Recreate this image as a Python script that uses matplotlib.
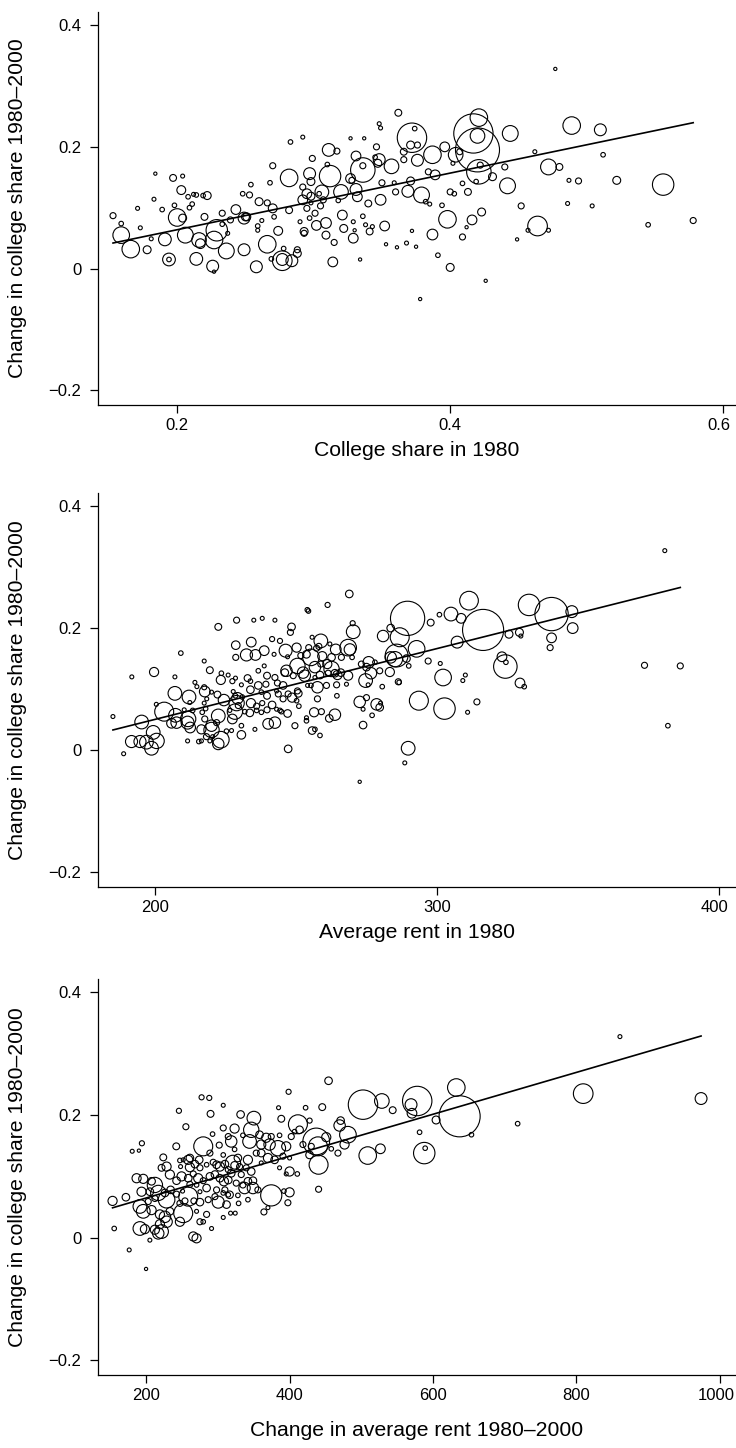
import matplotlib
matplotlib.use("Agg")
import matplotlib.pyplot as plt
import matplotlib.transforms as mtransforms
import numpy as np

plt.rcParams['font.family'] = ['Liberation Sans', 'DejaVu Sans']

# ---------------- Panel 1: college share in 1980 ----------------
share80 = [
    0.153, 0.159, 0.159, 0.166, 0.171, 0.173, 0.178, 0.181, 0.184, 0.183,
    0.189, 0.191, 0.194, 0.194, 0.197, 0.198, 0.200, 0.203, 0.204, 0.204,
    0.206, 0.208, 0.209, 0.211, 0.212, 0.214, 0.214, 0.216, 0.217, 0.219,
    0.222, 0.220, 0.226, 0.227, 0.227, 0.229, 0.233, 0.233, 0.236, 0.237,
    0.239, 0.243, 0.248, 0.249, 0.249, 0.250, 0.251, 0.253, 0.254, 0.259,
    0.259, 0.260, 0.258, 0.262, 0.266, 0.266, 0.268, 0.270, 0.270, 0.271,
    0.269, 0.274, 0.277, 0.278, 0.277, 0.282, 0.283, 0.282, 0.284, 0.288,
    0.288, 0.290, 0.292, 0.292, 0.292, 0.293, 0.293, 0.295, 0.295, 0.297,
    0.297, 0.298, 0.298, 0.298, 0.299, 0.301, 0.302, 0.304, 0.305, 0.306,
    0.307, 0.309, 0.309, 0.310, 0.311, 0.312, 0.315, 0.314, 0.317, 0.318,
    0.320, 0.321, 0.322, 0.327, 0.327, 0.328, 0.329, 0.329, 0.330, 0.331,
    0.331, 0.332, 0.334, 0.336, 0.336, 0.336, 0.337, 0.338, 0.340, 0.341,
    0.343, 0.345, 0.346, 0.347, 0.348, 0.348, 0.349, 0.349, 0.350, 0.352,
    0.353, 0.357, 0.359, 0.360, 0.362, 0.361, 0.366, 0.366, 0.368, 0.369,
    0.371, 0.372, 0.371, 0.374, 0.372, 0.375, 0.376, 0.376, 0.378, 0.379,
    0.382, 0.384, 0.385, 0.387, 0.389, 0.387, 0.391, 0.394, 0.396, 0.398,
    0.400, 0.400, 0.402, 0.403, 0.404, 0.407, 0.409, 0.409, 0.412, 0.413,
    0.416, 0.417, 0.420, 0.421, 0.421, 0.419, 0.420, 0.422, 0.423, 0.426,
    0.431, 0.440, 0.442, 0.444, 0.449, 0.452, 0.457, 0.462, 0.464, 0.472,
    0.477, 0.480, 0.472, 0.486, 0.487, 0.489, 0.494, 0.504, 0.510, 0.512,
    0.522, 0.545, 0.556, 0.578,
]
dshare_p1 = [
    0.087, 0.055, 0.074, 0.032, 0.099, 0.067, 0.031, 0.049, 0.156, 0.114,
    0.097, 0.048, 0.015, 0.015, 0.149, 0.104, 0.084, 0.129, 0.152, 0.083,
    0.055, 0.118, 0.100, 0.106, 0.122, 0.121, 0.016, 0.047, 0.041, 0.120,
    0.120, 0.085, 0.004, -0.005, 0.047, 0.063, 0.091, 0.073, 0.029, 0.058,
    0.080, 0.097, 0.123, 0.031, 0.083, 0.085, 0.085, 0.121, 0.138, 0.070,
    0.063, 0.110, 0.003, 0.079, 0.040, 0.108, 0.141, 0.169, 0.099, 0.085,
    0.016, 0.062, 0.013, 0.033, 0.015, 0.149, 0.208, 0.096, 0.013, 0.031,
    0.025, 0.077, 0.134, 0.113, 0.216, 0.061, 0.058, 0.123, 0.099, 0.083,
    0.156, 0.143, 0.119, 0.108, 0.181, 0.091, 0.071, 0.123, 0.103, 0.126,
    0.113, 0.075, 0.055, 0.171, 0.195, 0.152, 0.043, 0.011, 0.193, 0.112,
    0.126, 0.088, 0.066, 0.214, 0.148, 0.145, 0.050, 0.077, 0.063, 0.185,
    0.130, 0.118, 0.015, 0.086, 0.162, 0.169, 0.214, 0.072, 0.107, 0.061,
    0.069, 0.183, 0.200, 0.173, 0.179, 0.238, 0.231, 0.113, 0.141, 0.070,
    0.040, 0.168, 0.141, 0.126, 0.256, 0.035, 0.192, 0.179, 0.042, 0.127,
    0.144, 0.215, 0.203, 0.230, 0.062, 0.036, 0.178, 0.203, -0.050, 0.121,
    0.110, 0.159, 0.106, 0.187, 0.154, 0.056, 0.022, 0.104, 0.200, 0.081,
    0.002, 0.126, 0.173, 0.123, 0.187, 0.192, 0.052, 0.140, 0.068, 0.126,
    0.080, 0.222, 0.195, 0.248, 0.159, 0.143, 0.218, 0.170, 0.093, -0.020,
    0.151, 0.167, 0.136, 0.222, 0.048, 0.103, 0.063, 0.192, 0.070, 0.167,
    0.328, 0.167, 0.063, 0.107, 0.145, 0.235, 0.144, 0.103, 0.228, 0.187,
    0.145, 0.072, 0.138, 0.079,
]
pop_p1 = [
    7, 53, 4, 59, 3, 3, 12, 3, 2, 3,
    4, 31, 31, 4, 9, 4, 59, 15, 3, 12,
    48, 4, 4, 4, 3, 4, 31, 41, 18, 4,
    12, 9, 27, 2, 59, 88, 7, 4, 48, 3,
    7, 18, 4, 27, 27, 12, 12, 7, 4, 4,
    3, 12, 27, 3, 59, 7, 4, 7, 15, 4,
    4, 15, 74, 4, 27, 59, 4, 9, 27, 7,
    12, 3, 7, 18, 3, 12, 7, 18, 7, 4,
    27, 12, 12, 3, 7, 7, 18, 4, 7, 36,
    7, 22, 12, 4, 31, 88, 7, 18, 7, 4,
    41, 18, 12, 2, 18, 7, 18, 3, 2, 18,
    27, 18, 2, 4, 115, 7, 2, 3, 9, 9,
    3, 4, 7, 12, 27, 3, 3, 22, 7, 18,
    2, 41, 3, 7, 9, 2, 9, 7, 3, 27,
    12, 166, 12, 4, 2, 2, 27, 7, 2, 48,
    4, 7, 3, 59, 18, 22, 4, 4, 18, 59,
    12, 7, 3, 4, 41, 7, 7, 4, 2, 9,
    18, 296, 372, 59, 115, 4, 41, 7, 12, 2,
    12, 7, 48, 48, 2, 7, 3, 3, 74, 48,
    2, 9, 3, 3, 3, 59, 7, 3, 27, 4,
    12, 4, 88, 7,
]

# ---------------- Panel 2: average rent in 1980 ----------------
rent80 = [
    228.8, 234.9, 237.9, 222.3, 209.0, 228.5, 234.0, 228.5, 232.3, 235.5,
    238.6, 217.3, 199.5, 191.6, 206.9, 219.3, 223.4, 223.2, 225.8, 227.3,
    228.4, 230.5, 232.7, 233.7, 236.5, 238.6, 239.6, 214.0, 214.7, 217.3,
    217.5, 219.9, 222.0, 218.2, 206.9, 211.9, 200.3, 212.2, 213.2, 217.3,
    224.3, 227.6, 228.4, 229.1, 228.8, 230.8, 233.7, 236.5, 237.6, 239.2,
    237.9, 233.9, 235.9, 239.6, 203.1, 207.1, 210.2, 211.6, 216.6, 217.8,
    222.3, 226.4, 228.2, 229.4, 231.7, 233.5, 235.9, 237.6, 239.6, 184.9,
    195.1, 205.7, 207.5, 211.4, 212.3, 216.3, 217.5, 219.9, 219.9, 221.7,
    227.3, 225.2, 227.0, 230.5, 230.5, 235.3, 240.0, 199.2, 200.4, 191.5,
    194.5, 196.8, 198.6, 211.4, 215.4, 216.3, 218.1, 219.3, 220.3, 222.3,
    223.2, 188.7,
    268.8, 253.9, 254.3, 261.1, 242.4, 270.0, 248.3, 247.9, 270.2, 283.5,
    289.5, 297.7, 280.8, 286.7, 292.7, 241.4, 244.2, 255.6, 258.7, 246.2,
    250.1, 254.4, 257.2, 258.0, 261.9, 264.0, 268.4, 269.0, 251.6, 253.6,
    255.2, 259.2, 262.5, 266.0, 269.8, 242.1, 246.9, 285.6, 283.5, 285.0,
    289.1, 275.7, 273.1, 277.9, 246.5, 245.9, 250.4, 252.4, 256.6, 258.7,
    261.0, 262.5, 263.7, 265.8, 268.4, 274.9, 276.5, 279.6, 283.2, 289.9,
    296.8, 242.4, 248.9, 253.0, 256.6, 258.4, 261.3, 264.6, 274.6, 286.2,
    286.5, 243.3, 245.3, 243.0, 250.4, 254.0, 255.2, 257.5, 260.7, 264.3,
    267.8, 275.5, 280.5, 243.6, 247.1, 248.5, 250.7, 245.3, 250.1, 257.5,
    264.4, 272.5, 274.9, 278.5, 279.9, 279.6, 293.5, 241.4, 243.0, 244.2,
    244.7, 246.9, 250.9, 256.3, 258.9, 263.7, 261.7, 273.7, 276.9, 242.4,
    253.6, 253.6, 249.5, 255.6, 256.6, 258.4, 273.7, 247.1, 289.7, 288.5,
    300.8, 302.1, 302.6, 301.1, 304.9, 307.1, 308.5, 309.1, 310.0, 310.8,
    311.3, 314.1, 316.3, 323.0, 324.4, 324.2, 325.5, 329.2, 329.7, 329.4,
    330.9, 332.6, 340.6, 340.6, 340.1, 347.8, 348.1, 373.6, 380.8, 381.9,
    386.3, 272.5,
]
dshare_p2 = [
    0.213, 0.213, 0.216, 0.202, 0.159, 0.172, 0.177, 0.152, 0.156, 0.156,
    0.163, 0.146, 0.128, 0.120, 0.120, 0.131, 0.126, 0.115, 0.123, 0.113,
    0.118, 0.107, 0.118, 0.113, 0.130, 0.138, 0.122, 0.111, 0.104, 0.103,
    0.096, 0.095, 0.091, 0.084, 0.093, 0.087, 0.075, 0.078, 0.065, 0.077,
    0.082, 0.096, 0.089, 0.085, 0.077, 0.087, 0.099, 0.106, 0.095, 0.108,
    0.077, 0.077, 0.072, 0.089, 0.063, 0.057, 0.066, 0.051, 0.062, 0.068,
    0.056, 0.065, 0.063, 0.073, 0.063, 0.061, 0.065, 0.062, 0.066, 0.055,
    0.046, 0.044, 0.045, 0.045, 0.037, 0.034, 0.051, 0.033, 0.040, 0.045,
    0.051, 0.031, 0.032, 0.025, 0.040, 0.034, 0.043, 0.029, 0.015, 0.014,
    0.014, 0.013, 0.003, 0.015, 0.014, 0.015, 0.022, 0.015, 0.022, 0.010,
    0.017, -0.006,
    0.256, 0.230, 0.228, 0.238, 0.213, 0.208, 0.202, 0.193, 0.194, 0.200,
    0.216, 0.209, 0.187, 0.185, 0.166, 0.182, 0.179, 0.185, 0.179, 0.163,
    0.168, 0.168, 0.167, 0.170, 0.174, 0.165, 0.168, 0.165, 0.155, 0.157,
    0.152, 0.154, 0.152, 0.152, 0.152, 0.157, 0.153, 0.155, 0.152, 0.149,
    0.150, 0.144, 0.141, 0.144, 0.130, 0.127, 0.138, 0.127, 0.136, 0.141,
    0.141, 0.133, 0.126, 0.127, 0.122, 0.136, 0.126, 0.130, 0.128, 0.138,
    0.146, 0.119, 0.122, 0.122, 0.119, 0.123, 0.126, 0.123, 0.114, 0.112,
    0.111, 0.110, 0.106, 0.097, 0.097, 0.106, 0.106, 0.103, 0.106, 0.107,
    0.108, 0.107, 0.104, 0.092, 0.092, 0.086, 0.093, 0.084, 0.081, 0.084,
    0.089, 0.079, 0.086, 0.075, 0.077, 0.070, 0.081, 0.074, 0.067, 0.065,
    0.063, 0.060, 0.072, 0.062, 0.063, 0.058, 0.052, 0.067, 0.057, 0.045,
    0.053, 0.048, 0.040, 0.032, 0.034, 0.024, 0.041, 0.002, 0.003, -0.021,
    0.222, 0.119, 0.068, 0.142, 0.223, 0.177, 0.216, 0.114, 0.123, 0.062,
    0.245, 0.079, 0.197, 0.153, 0.144, 0.137, 0.190, 0.193, 0.187, 0.110,
    0.104, 0.238, 0.223, 0.184, 0.168, 0.227, 0.200, 0.139, 0.327, 0.040,
    0.138, -0.052,
]
pop_p2 = [
    7, 3, 3, 9, 4, 14, 18, 7, 28, 22,
    18, 3, 16, 3, 3, 9, 4, 16, 3, 5,
    3, 3, 9, 4, 4, 3, 9, 3, 3, 5,
    22, 3, 9, 3, 36, 36, 3, 3, 4, 3,
    25, 3, 4, 25, 45, 4, 11, 11, 4, 7,
    5, 16, 7, 9, 69, 36, 3, 45, 4, 4,
    36, 3, 45, 7, 4, 11, 4, 4, 7, 3,
    36, 18, 25, 32, 22, 16, 7, 45, 25, 7,
    18, 4, 3, 14, 4, 3, 22, 36, 45, 28,
    28, 36, 36, 3, 4, 3, 7, 3, 3, 25,
    53, 3,
    11, 4, 4, 5, 3, 5, 11, 7, 36, 11,
    225, 9, 25, 69, 53, 5, 5, 3, 36, 32,
    16, 7, 7, 7, 3, 22, 53, 25, 7, 11,
    53, 16, 11, 7, 4, 3, 3, 100, 25, 45,
    11, 25, 7, 4, 25, 11, 45, 25, 25, 7,
    16, 45, 11, 11, 16, 11, 25, 7, 16, 4,
    7, 7, 7, 25, 3, 11, 7, 16, 36, 7,
    4, 7, 11, 3, 7, 3, 4, 25, 7, 7,
    3, 3, 4, 7, 7, 16, 11, 7, 4, 7,
    4, 25, 7, 25, 3, 11, 69, 11, 3, 4,
    4, 11, 4, 16, 7, 25, 11, 3, 4, 25,
    3, 4, 7, 11, 4, 4, 11, 11, 36, 3,
    4, 53, 88, 3, 36, 27, 18, 3, 3, 3,
    67, 7, 324, 18, 4, 106, 12, 12, 3, 18,
    4, 88, 213, 18, 7, 27, 22, 7, 3, 4,
    7, 2,
]

# ---------------- Panel 3: change in average rent 1980-2000 ----------------
drent = [
    277.4, 288.1, 245.8, 289.9, 307.6, 255.5, 307.6, 279.7, 194.2, 180.7,
    190.0, 242.1, 292.7, 314.6, 302.0, 224.0, 247.2, 251.8, 258.8, 261.1,
    274.1, 289.0, 307.6, 221.6, 228.6, 248.1, 261.1, 268.1, 275.1, 284.4,
    293.6, 298.3, 302.9, 309.9, 314.6, 186.8, 196.1, 207.7, 212.3, 233.2,
    242.5, 249.5, 258.8, 265.8, 272.7, 279.7, 289.0, 296.0, 302.9, 308.5,
    314.6, 261.1, 270.4, 284.4, 298.3, 309.9, 193.7, 205.3, 217.0, 226.3,
    234.2, 242.5, 250.9, 258.8, 275.1, 296.0, 307.6, 314.6, 153.3, 171.9,
    191.4, 203.0, 212.3, 228.6, 247.2, 254.2, 266.7, 275.1, 286.7, 300.6,
    312.2, 196.1, 207.7, 219.3, 226.3, 233.2, 251.8, 270.4, 284.4, 307.6,
    275.1, 279.7, 228.6, 191.4, 198.4, 212.3, 219.3, 221.6, 217.0, 247.2,
    291.3, 265.8, 270.4, 155.6, 205.3, 176.5,
    454.4, 398.7, 384.7, 422.4, 445.6, 331.8, 350.3, 388.5, 411.7, 428.0,
    471.2, 469.8, 481.4, 476.7, 323.4, 346.6, 335.0, 358.2, 367.5, 374.5,
    386.1, 402.4, 407.0, 414.0, 437.2, 439.6, 451.2, 318.7, 344.3, 360.6,
    372.2, 383.8, 395.4, 418.7, 430.3, 458.2, 467.5, 323.4, 328.0, 321.1,
    342.0, 353.6, 360.6, 369.9, 379.2, 390.8, 400.1, 427.9, 323.4, 330.4,
    339.7, 318.7, 332.7, 346.6, 360.6, 386.1, 400.1, 395.4, 410.8, 440.5,
    325.7, 335.0, 342.0, 349.0, 337.3, 349.0, 355.9, 316.4, 328.0, 342.0,
    374.5, 392.2, 400.1, 440.5, 397.7, 369.9, 329.0, 364.3, 317.8, 324.3,
    502.4, 528.7, 543.8, 509.0, 526.7, 578.0, 569.4, 570.7, 581.3, 587.8,
    589.1, 604.3, 632.5, 637.1, 653.6, 718.0, 809.4, 860.6, 973.7, 200.0,
]
dshare_p3 = [
    0.229, 0.228, 0.207, 0.202, 0.216, 0.181, 0.179, 0.149, 0.154, 0.141,
    0.142, 0.149, 0.169, 0.165, 0.151, 0.131, 0.126, 0.127, 0.127, 0.130,
    0.127, 0.138, 0.135, 0.114, 0.116, 0.116, 0.115, 0.120, 0.114, 0.119,
    0.123, 0.119, 0.116, 0.120, 0.111, 0.097, 0.096, 0.092, 0.086, 0.103,
    0.093, 0.100, 0.097, 0.104, 0.097, 0.093, 0.100, 0.103, 0.097, 0.092,
    0.094, 0.087, 0.086, 0.081, 0.078, 0.078, 0.075, 0.075, 0.073, 0.073,
    0.078, 0.071, 0.076, 0.067, 0.075, 0.067, 0.073, 0.070, 0.060, 0.066,
    0.051, 0.059, 0.064, 0.062, 0.056, 0.060, 0.060, 0.058, 0.062, 0.058,
    0.054, 0.043, 0.045, 0.038, 0.034, 0.043, 0.040, 0.043, 0.038, 0.033,
    0.026, 0.026, 0.026, 0.015, 0.014, 0.013, 0.022, 0.010, 0.007, 0.026,
    0.015, 0.002, -0.001, 0.015, -0.004, -0.020,
    0.256, 0.238, 0.212, 0.212, 0.213, 0.201, 0.195, 0.194, 0.185, 0.191,
    0.191, 0.183, 0.168, 0.152, 0.178, 0.176, 0.167, 0.168, 0.163, 0.165,
    0.167, 0.165, 0.173, 0.176, 0.157, 0.149, 0.164, 0.157, 0.157, 0.152,
    0.152, 0.146, 0.149, 0.152, 0.149, 0.145, 0.138, 0.144, 0.130, 0.122,
    0.127, 0.138, 0.138, 0.130, 0.127, 0.133, 0.130, 0.135, 0.118, 0.116,
    0.114, 0.105, 0.103, 0.108, 0.122, 0.114, 0.108, 0.104, 0.104, 0.119,
    0.089, 0.086, 0.092, 0.093, 0.081, 0.081, 0.078, 0.070, 0.069, 0.062,
    0.069, 0.076, 0.074, 0.079, 0.057, 0.049, 0.056, 0.042, 0.040, 0.040,
    0.217, 0.223, 0.208, 0.134, 0.145, 0.223, 0.217, 0.203, 0.172, 0.138,
    0.146, 0.192, 0.245, 0.198, 0.168, 0.186, 0.235, 0.328, 0.227, -0.051,
]
pop_p3 = [
    5, 5, 5, 9, 3, 7, 7, 69, 5, 3,
    2, 9, 4, 7, 7, 9, 4, 3, 16, 11,
    11, 7, 4, 9, 16, 3, 16, 11, 7, 4,
    7, 11, 16, 11, 7, 16, 16, 11, 45, 16,
    11, 16, 11, 7, 16, 7, 11, 11, 11, 16,
    11, 7, 4, 11, 7, 7, 16, 11, 45, 11,
    11, 7, 3, 69, 3, 7, 4, 4, 16, 11,
    36, 7, 7, 53, 7, 7, 7, 11, 7, 28,
    11, 36, 16, 16, 25, 11, 69, 3, 7, 3,
    7, 4, 25, 36, 16, 16, 16, 36, 25, 16,
    3, 16, 16, 4, 3, 3,
    11, 5, 3, 4, 9, 11, 36, 9, 69, 5,
    11, 25, 53, 16, 16, 45, 4, 11, 16, 7,
    4, 7, 4, 11, 137, 69, 16, 25, 36, 16,
    25, 45, 16, 7, 7, 4, 7, 4, 11, 45,
    16, 7, 11, 16, 11, 7, 3, 11, 11, 7,
    7, 11, 7, 11, 3, 3, 16, 3, 4, 69,
    7, 7, 11, 11, 25, 25, 7, 11, 4, 4,
    86, 4, 16, 7, 7, 3, 4, 7, 3, 3,
    166, 41, 9, 59, 18, 166, 27, 18, 4, 88,
    4, 12, 59, 324, 4, 4, 74, 3, 27, 2,
]

# weighted regression fits (slope, intercept)
fit_p1 = (0.465, -0.0291)
fit_p2 = (0.00116, -0.1815)
fit_p3 = (0.0003416, -0.00361)

ylabel_text = "Change in college share 1980\u20132000"
xlabels = ["College share in 1980", "Average rent in 1980",
           "Change in average rent 1980\u20132000"]
xticks_p1 = [0.2, 0.4, 0.6]
xticks_p2 = [200, 300, 400]
xticks_p3 = [200, 400, 600, 800, 1000]
yticks = [-0.2, 0, 0.2, 0.4]

# ---------------- figure ----------------
W, H = 736, 1448
fig = plt.figure(figsize=(W / 100, H / 100), dpi=100)

panels = [
    dict(top=11.7, bottom=405.0, x=share80, y=dshare_p1, w=pop_p1, fit=fit_p1,
         xlim=(0.142, 0.609), xticks=xticks_p1, xtl=["0.2", "0.4", "0.6"],
         xlabel=xlabels[0], xlab_off=46),
    dict(top=492.7, bottom=886.7, x=rent80, y=dshare_p2, w=pop_p2, fit=fit_p2,
         xlim=(179.6, 405.9), xticks=xticks_p2, xtl=["200", "300", "400"],
         xlabel=xlabels[1], xlab_off=46),
    dict(top=979.0, bottom=1375.0, x=drent, y=dshare_p3, w=pop_p3, fit=fit_p3,
         xlim=(133.0, 1021.7), xticks=xticks_p3,
         xtl=["200", "400", "600", "800", "1000"],
         xlabel=xlabels[2], xlab_off=56),
]

left_px, right_px = 98.0, 735.5
for p in panels:
    rect = [left_px / W, 1 - p["bottom"] / H, (right_px - left_px) / W,
            (p["bottom"] - p["top"]) / H]
    ax = fig.add_axes(rect)
    x = np.asarray(p["x"], float)
    y = np.asarray(p["y"], float)
    w = np.asarray(p["w"], float)
    ax.scatter(x, y, s=2.7 * w, facecolors="none", edgecolors="black",
               linewidths=0.8, zorder=2)
    slope, icpt = p["fit"]
    xs = np.array([x.min(), x.max()])
    ax.plot(xs, icpt + slope * xs, color="black", lw=1.2, zorder=3)

    ax.set_xlim(*p["xlim"])
    ax.set_ylim(-0.224, 0.422)
    for s in ("top", "right"):
        ax.spines[s].set_visible(False)
    for s in ("left", "bottom"):
        ax.spines[s].set_linewidth(0.9)
    ax.set_xticks(p["xticks"])
    ax.set_xticklabels(p["xtl"])
    ax.set_yticks(yticks)
    ax.set_yticklabels(["\u22120.2", "0", "0.2", "0.4"])
    ax.tick_params(axis="both", direction="out", length=6, width=0.9,
                   labelsize=12)
    ax.tick_params(axis="y", pad=6)
    ax.tick_params(axis="x", pad=3.5)

    # keep the right-most tick label inside the canvas
    last = ax.get_xticklabels()[-1]
    last.set_transform(last.get_transform() +
                       mtransforms.ScaledTranslation(-4 / 100, 0,
                                                     fig.dpi_scale_trans))

    h_px = p["bottom"] - p["top"]
    ax.set_ylabel(ylabel_text, fontsize=15.2)
    ax.yaxis.set_label_coords(-80 / (right_px - left_px), 0.5)
    ax.yaxis.label.set_va("center")
    ax.yaxis.label.set_ha("center")
    ax.set_xlabel(p["xlabel"], fontsize=15.2)
    ax.xaxis.set_label_coords(0.5, -p["xlab_off"] / h_px)
    ax.xaxis.label.set_va("center")

fig.savefig("out.png", dpi=100)
